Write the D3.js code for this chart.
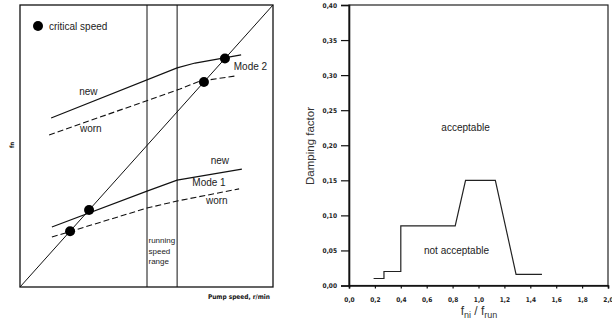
<!DOCTYPE html>
<html>
<head>
<meta charset="utf-8">
<script src="https://cdn.jsdelivr.net/npm/d3@7"></script>
<style>
  body { margin: 0; background: #fff; }
  svg { display: block; font-family: "Liberation Sans", Arial, sans-serif; }
  .tick-label { font-family: "DejaVu Sans Condensed", "DejaVu Sans", sans-serif; font-weight: bold; font-size: 6.5px; fill: #222; }
</style>
</head>
<body>
<svg class="chart" width="612" height="324"></svg>
<script>
// ---- left chart: natural frequency vs pump speed (relative units 0-100) ----
var runningRange = [50.2, 62.1];
var mode2New  = [[12.3, 59.9], [62.1, 77.7], [69.2, 79.4], [87.4, 82.3]];
var mode2Worn = [[11.5, 53.9], [63.2, 70.2], [71.1, 73.0], [85.0, 74.8]];
var mode1New  = [[12.6, 21.3], [50.2, 34.0], [62.1, 37.9], [87.7, 41.8]];
var mode1Worn = [[12.6, 17.7], [50.2, 28.0], [62.1, 30.5], [86.6, 34.8]];
var criticalSpeeds = [81.0, 72.7, 27.3, 19.8];   // on the 1x line, x == y

// ---- right chart: damping factor vs frequency ratio ----
var ratioX   = [0.19, 0.27, 0.27, 0.40, 0.40, 0.82, 0.90, 1.13, 1.29, 1.49];
var dampingY = [0.010, 0.010, 0.020, 0.020, 0.085, 0.085, 0.150, 0.150, 0.016, 0.016];
var xTicks = [0, 0.2, 0.4, 0.6, 0.8, 1.0, 1.2, 1.4, 1.6, 1.8, 2.0];
var yTicks = [0, 0.05, 0.10, 0.15, 0.20, 0.25, 0.30, 0.35, 0.40];

let svg = d3.select(".chart");

//Left chart
let lx = d3.scaleLinear().domain([0, 100]).range([20, 273]);
let ly = d3.scaleLinear().domain([0, 100]).range([287, 5]);
let gLeft = svg.append("g").attr("id", "left");

gLeft.append("rect")
  .attr("x", lx(0)).attr("y", ly(100))
  .attr("width", lx(100) - lx(0)).attr("height", ly(0) - ly(100))
  .attr("fill", "none").attr("stroke", "#111").attr("stroke-width", 1.3);

gLeft.selectAll(".range-line")
  .data(runningRange)
  .enter()
  .append("line")
    .attr("class", "range-line")
    .attr("x1", d => lx(d)).attr("x2", d => lx(d))
    .attr("y1", ly(0)).attr("y2", ly(100))
    .attr("stroke", "#111").attr("stroke-width", 1);

// 1x running speed line
gLeft.append("line")
  .attr("x1", lx(0)).attr("y1", ly(0))
  .attr("x2", lx(100)).attr("y2", ly(100))
  .attr("stroke", "#111").attr("stroke-width", 1);

var line = d3.line()
  .x(d => lx(d[0]))
  .y(d => ly(d[1]));

[[mode2New, false], [mode2Worn, true], [mode1New, false], [mode1Worn, true]].forEach(function(s){
  gLeft.append("path")
    .datum(s[0])
    .attr("d", line)
    .attr("fill", "none")
    .attr("stroke", "#111")
    .attr("stroke-width", 1.1)
    .attr("stroke-dasharray", s[1] ? "6,3" : null);
});

gLeft.selectAll(".crit")
  .data(criticalSpeeds)
  .enter()
  .append("circle")
    .attr("class", "crit")
    .attr("cx", d => lx(d)).attr("cy", d => ly(d))
    .attr("r", 5).attr("fill", "#000");

// legend
gLeft.append("circle").attr("cx", 38).attr("cy", 26).attr("r", 5).attr("fill", "#000");
gLeft.append("text").attr("x", 49).attr("y", 29.5)
  .attr("font-size", 10).attr("fill", "#222").text("critical speed");

var leftLabels = [
  ["new", 27, 68],
  ["worn", 28, 55],
  ["Mode 2", 84.5, 77],
  ["new", 79, 43.5],
  ["Mode 1", 74.7, 35.8],
  ["worn", 77.8, 29.5]
];
gLeft.selectAll(".lbl")
  .data(leftLabels)
  .enter()
  .append("text")
    .attr("class", "lbl")
    .attr("x", d => lx(d[1])).attr("y", d => ly(d[2]))
    .attr("text-anchor", d => d[0] == "Mode 2" ? "start" : "middle")
    .attr("font-size", 10).attr("fill", "#222")
    .text(d => d[0]);

let rsText = gLeft.append("text")
  .attr("x", lx(runningRange[0]) + 1.5).attr("y", ly(15.5))
  .attr("font-size", 8).attr("fill", "#222");
["running", "speed", "range"].forEach(function(t, i){
  rsText.append("tspan").attr("x", lx(runningRange[0]) + 1.5).attr("dy", i == 0 ? 0 : 10.5).text(t);
});

gLeft.append("text")
  .attr("x", 270).attr("y", 298.5)
  .attr("text-anchor", "end")
  .attr("font-family", "DejaVu Sans Condensed, DejaVu Sans, sans-serif")
  .attr("font-weight", "bold").attr("font-size", 6.5).attr("fill", "#111")
  .text("Pump speed, r/min");

gLeft.append("text")
  .attr("transform", "translate(14,145) rotate(-90)")
  .attr("text-anchor", "middle")
  .attr("font-family", "DejaVu Sans Condensed, DejaVu Sans, sans-serif")
  .attr("font-weight", "bold").attr("font-size", 6).attr("fill", "#111")
  .text("fn");

//Right chart
let rx = d3.scaleLinear().domain([0, 2]).range([349, 608]);
let ry = d3.scaleLinear().domain([0, 0.4]).range([285.5, 5]);
let gRight = svg.append("g").attr("id", "right");
let comma = d3.formatLocale({decimal: ",", thousands: ".", grouping: [3], currency: ["", ""]});

gRight.append("rect")
  .attr("x", rx(0)).attr("y", ry(0.4))
  .attr("width", rx(2) - rx(0)).attr("height", ry(0) - ry(0.4))
  .attr("fill", "none").attr("stroke", "#222").attr("stroke-width", 1.2);

let yAxis = d3.axisLeft(ry).tickValues(yTicks).tickSize(8).tickPadding(4)
  .tickFormat(comma.format(".2f"));
let xAxis = d3.axisBottom(rx).tickValues(xTicks).tickSize(3).tickPadding(9)
  .tickFormat(comma.format(".1f"));

let gY = gRight.append("g").attr("transform", "translate(" + rx(0) + ",0)").call(yAxis);
let gX = gRight.append("g").attr("transform", "translate(0," + ry(0) + ")").call(xAxis);
[gY, gX].forEach(function(g){
  g.select(".domain").attr("stroke", "#111").attr("stroke-width", 1.6);
  g.selectAll(".tick line").attr("stroke", "#111").attr("stroke-width", 1.2);
  g.selectAll(".tick text").attr("class", "tick-label").attr("font-family", null).attr("font-size", null);
});

var dampData = ratioX.map((x, i) => [x, dampingY[i]]);
gRight.append("path")
  .datum(dampData)
  .attr("d", d3.line().x(d => rx(d[0])).y(d => ry(d[1])))
  .attr("fill", "none").attr("stroke", "#222").attr("stroke-width", 1.2);

gRight.append("text")
  .attr("x", rx(0.90)).attr("y", ry(0.225) + 3.5)
  .attr("text-anchor", "middle").attr("font-size", 10).attr("fill", "#222")
  .text("acceptable");
gRight.append("text")
  .attr("x", rx(0.83)).attr("y", ry(0.05) + 3.5)
  .attr("text-anchor", "middle").attr("font-size", 10).attr("fill", "#222")
  .text("not acceptable");

gRight.append("text")
  .attr("transform", "translate(314,146) rotate(-90)")
  .attr("text-anchor", "middle").attr("font-size", 11.5).attr("fill", "#333")
  .text("Damping factor");

let xl = gRight.append("text")
  .attr("x", 479).attr("y", 315)
  .attr("text-anchor", "middle").attr("font-size", 12).attr("fill", "#333");
xl.append("tspan").text("f");
xl.append("tspan").attr("font-size", 9).attr("dy", 3).text("ni");
xl.append("tspan").attr("dy", -3).text(" / f");
xl.append("tspan").attr("font-size", 9).attr("dy", 3).text("run");
</script>
</body>
</html>
